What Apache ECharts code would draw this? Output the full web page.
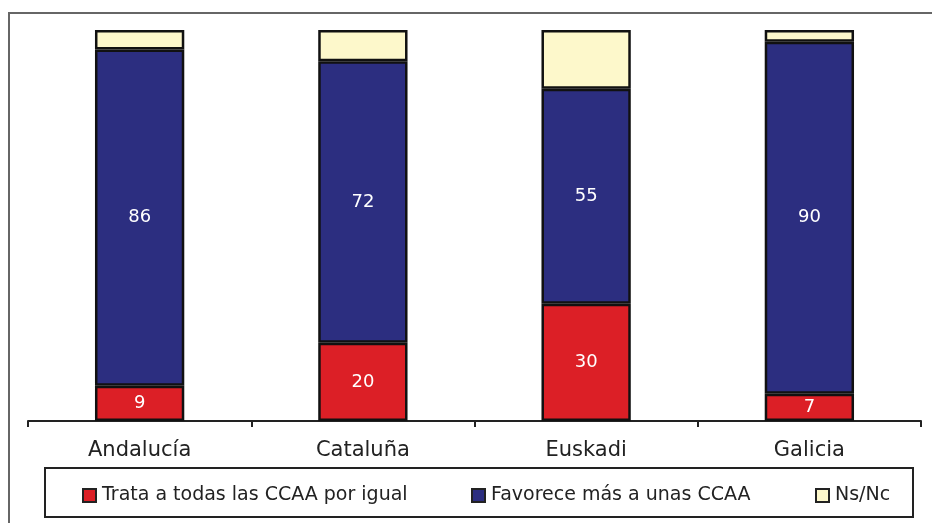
<!DOCTYPE html>
<html>
<head>
<meta charset="utf-8">
<script src="https://cdn.jsdelivr.net/npm/echarts@6/dist/echarts.min.js"></script>
<style>
  html, body { margin: 0; padding: 0; background: #fff; }
  #chart { width: 932px; height: 523px; }
</style>
</head>
<body>
<div id="chart"></div>
<script>
// datos (%)
var regiones = ['Andalucía', 'Cataluña', 'Euskadi', 'Galicia'];
var igual = [9, 20, 30, 7];
var favorece = [86, 72, 55, 90];
var nsnc = [5, 8, 15, 3];
var nombres = ['Trata a todas las CCAA por igual', 'Favorece más a unas CCAA', 'Ns/Nc'];
var colores = ['#dc1f26', '#2c2e80', '#fdf8cb'];

var chart = echarts.init(document.getElementById('chart'));
var fuente = 'DejaVu Sans';

function serie(i, datos, etiqueta) {
  return {
    name: nombres[i],
    type: 'bar',
    stack: 'total',
    barWidth: '40%',
    data: datos,
    itemStyle: { color: colores[i], borderColor: '#111', borderWidth: 2.5 },
    label: {
      show: etiqueta,
      position: 'inside',
      color: '#fff',
      fontSize: 18,
      fontFamily: fuente
    }
  };
}

function leyenda(i, x) {
  return {
    data: [nombres[i]],
    left: x,
    top: 481,
    itemWidth: 13,
    itemHeight: 13,
    itemGap: 4,
    icon: 'rect',
    itemStyle: { borderColor: '#222', borderWidth: 2 },
    textStyle: { fontFamily: fuente, fontSize: 19, color: '#222', padding: [0, 0, 0, 1] },
    selectedMode: false
  };
}

var option = {
  animation: false,
  grid: { left: 28, right: 11, top: 30, bottom: 102 },
  legend: [leyenda(0, 77), leyenda(1, 466), leyenda(2, 810)],
  xAxis: {
    type: 'category',
    data: regiones,
    axisLine: { lineStyle: { color: '#222', width: 2 } },
    axisTick: { show: true, length: 6, lineStyle: { color: '#222', width: 2 } },
    axisLabel: { fontFamily: fuente, fontSize: 21, color: '#222', margin: 19 }
  },
  yAxis: {
    type: 'value',
    min: 0,
    max: 100,
    show: false
  },
  series: [
    serie(0, igual, true),
    serie(1, favorece, true),
    serie(2, nsnc, false)
  ],
  graphic: [
    {
      type: 'rect',
      shape: { x: 9, y: 13, width: 940, height: 540 },
      style: { fill: 'none', stroke: '#666', lineWidth: 2 },
      silent: true
    },
    {
      type: 'rect',
      shape: { x: 45, y: 468, width: 868, height: 49 },
      style: { fill: 'none', stroke: '#222', lineWidth: 2 },
      silent: true
    }
  ]
};
chart.setOption(option);
window.addEventListener('resize', function () {
  chart.resize();
});
</script>
</body>
</html>
